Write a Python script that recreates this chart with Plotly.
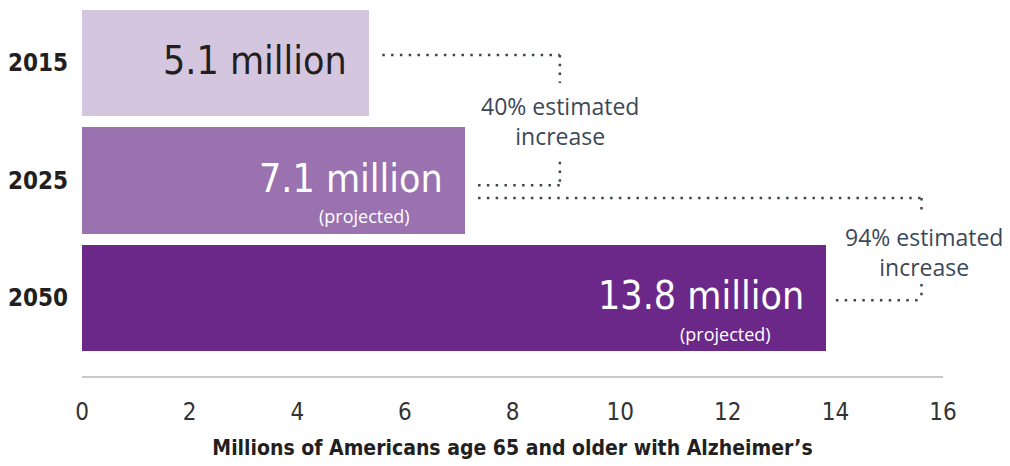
import plotly.graph_objects as go

# ---- data ----
years = ["2015", "2025", "2050"]
bar_values = [5.33, 7.12, 13.83]          # bar lengths as drawn (millions)
value_labels = ["5.1 million", "7.1 million", "13.8 million"]
sub_labels = ["", "(projected)", "(projected)"]
bar_colors = ["#d5c6e0", "#9a72b0", "#6c2889"]
label_colors = ["#231f20", "#ffffff", "#ffffff"]
increase_labels = ["40% estimated<br>increase", "94% estimated<br>increase"]
x_ticks = [0, 2, 4, 6, 8, 10, 12, 14, 16]
x_title = "Millions of Americans age 65 and older with Alzheimer’s"

ypos = list(range(len(years)))

fig = go.Figure()
fig.add_trace(go.Bar(
    x=bar_values, y=ypos, orientation="h", width=0.91,
    marker=dict(color=bar_colors, line=dict(width=0)),
    hoverinfo="skip", showlegend=False,
))

NARROW = "DejaVu Sans Condensed, Liberation Sans Narrow, sans-serif"
SANS = "Open Sans, Noto Sans, sans-serif"
DOT = "#3a4656"

annotations = []
for i, (v, lab, sub, col) in enumerate(zip(bar_values, value_labels, sub_labels, label_colors)):
    annotations.append(dict(
        x=v - 0.37, y=i, xref="x", yref="y", text=lab, showarrow=False,
        xanchor="right", yanchor="middle", yshift=2,
        font=dict(family=NARROW, size=39, color=col),
    ))
    if sub:
        annotations.append(dict(
            x=v - 0.37 - 1.5, y=i, xref="x", yref="y", text=sub, showarrow=False,
            xanchor="center", yanchor="middle", yshift=-36,
            font=dict(family=SANS, size=18, color=col),
        ))

# bracket geometry (layout constants)
b1x, b2x = 8.88, 15.6
shapes = []
def dotted(x0, y0, x1, y1):
    shapes.append(dict(type="line", xref="x", yref="y", x0=x0, y0=y0, x1=x1, y1=y1,
                       line=dict(color=DOT, width=2.5, dash="2.5px,6.3px")))

# bracket 1: 2015 -> 2025
dotted(bar_values[0] + 0.25, -0.068, b1x, -0.068)
dotted(b1x, -0.068, b1x, 0.17)
dotted(b1x, 0.84, b1x, 1.04)
dotted(bar_values[1] + 0.24, 1.04, b1x, 1.04)
# bracket 2: 2025 -> 2050
dotted(bar_values[1] + 0.24, 1.15, b2x, 1.15)
dotted(b2x, 1.15, b2x, 1.28)
dotted(b2x, 1.88, b2x, 2.02)
dotted(bar_values[2] + 0.18, 2.02, b2x, 2.02)

annotations.append(dict(x=b1x, y=0.49, xref="x", yref="y", text=increase_labels[0],
                        showarrow=False, xanchor="center", yanchor="middle",
                        font=dict(family=SANS, size=23, color="#3c4858")))
annotations.append(dict(x=b2x + 0.05, y=1.61, xref="x", yref="y", text=increase_labels[1],
                        showarrow=False, xanchor="center", yanchor="middle",
                        font=dict(family=SANS, size=23, color="#3c4858")))

fig.update_layout(
    width=1010, height=466,
    margin=dict(l=82, r=67, t=0, b=90),
    paper_bgcolor="white", plot_bgcolor="white",
    bargap=0, annotations=annotations, shapes=shapes,
    xaxis=dict(
        range=[0, 16], tickvals=x_ticks, ticktext=[str(t) for t in x_ticks],
        showgrid=False, zeroline=False, showline=True, linecolor="#c9c9c9", linewidth=1.5,
        ticks="", ticklabelstandoff=13, automargin=False,
        tickfont=dict(family=NARROW, size=24, color="#333333"),
        title=dict(text=x_title, standoff=16,
                   font=dict(family=NARROW, size=21, color="#231f20", weight="bold")),
    ),
    yaxis=dict(
        range=[2.664, -0.536], tickvals=ypos, ticktext=years,
        showgrid=False, zeroline=False, showline=False, ticks="",
        ticklabelstandoff=13, automargin=False,
        tickfont=dict(family=NARROW, size=24, color="#231f20", weight="bold"),
    ),
)

fig.write_html("out.html", config={"displayModeBar": False},
               post_script="document.body.style.margin='0';document.body.style.padding='0';")
